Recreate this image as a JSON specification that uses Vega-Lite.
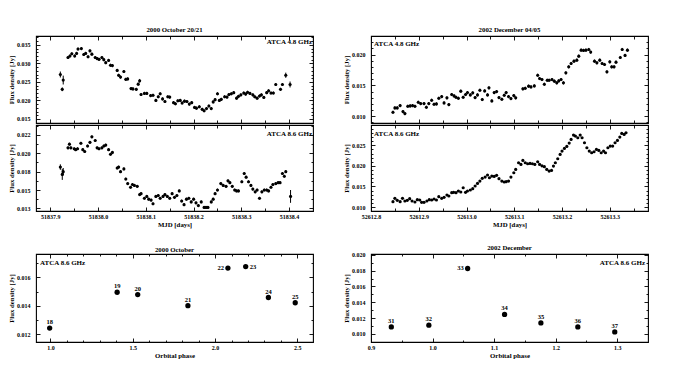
{
"padding": {"left": 7, "top": 26, "right": 5, "bottom": 5},
"config": {
 "font": "Liberation Serif",
 "view": {"stroke": "#000", "strokeWidth": 1.1},
 "axis": {"domain": false, "grid": false, "labelFont": "Liberation Serif", "labelFontSize": 6, "labelFontWeight": "bold", "labelColor": "#000", "tickColor": "#000", "tickWidth": 0.9, "titleFont": "Liberation Serif", "titleFontSize": 6.8, "titleFontWeight": "bold", "titleColor": "#000", "labelOverlap": false, "labelFlush": false, "titlePadding": 2},
 "axisX": {"labelPadding": 6.5},
 "axisY": {"labelPadding": 10},
 "title": {"font": "Liberation Serif", "fontSize": 6.8, "fontWeight": "bold", "color": "#000", "offset": 2}
},
"datasets": {
"oct48": [
{"mjd":51837.921,"flux":0.0270,"err":0.0008},{"mjd":51837.925,"flux":0.0230,"err":0.0005},{"mjd":51837.927,"flux":0.0255,"err":0.0012},
{"mjd":51837.937,"flux":0.0316,"err":0.0004},{"mjd":51837.941,"flux":0.0320,"err":0.0004},{"mjd":51837.945,"flux":0.0326,"err":0.0004},{"mjd":51837.951,"flux":0.0320,"err":0.0004},{"mjd":51837.955,"flux":0.0327,"err":0.0004},{"mjd":51837.958,"flux":0.0339,"err":0.0004},{"mjd":51837.965,"flux":0.0340,"err":0.0004},{"mjd":51837.970,"flux":0.0324,"err":0.0004},{"mjd":51837.974,"flux":0.0327,"err":0.0004},{"mjd":51837.979,"flux":0.0318,"err":0.0004},{"mjd":51837.983,"flux":0.0334,"err":0.0004},{"mjd":51837.987,"flux":0.0325,"err":0.0004},{"mjd":51837.994,"flux":0.0316,"err":0.0004},{"mjd":51837.998,"flux":0.0313,"err":0.0004},{"mjd":51838.002,"flux":0.0311,"err":0.0004},{"mjd":51838.008,"flux":0.0316,"err":0.0004},{"mjd":51838.012,"flux":0.0310,"err":0.0004},{"mjd":51838.016,"flux":0.0302,"err":0.0004},{"mjd":51838.022,"flux":0.0308,"err":0.0004},{"mjd":51838.026,"flux":0.0295,"err":0.0004},{"mjd":51838.030,"flux":0.0294,"err":0.0004},
{"mjd":51838.040,"flux":0.0281,"err":0.0004},{"mjd":51838.043,"flux":0.0268,"err":0.0004},{"mjd":51838.047,"flux":0.0263,"err":0.0004},{"mjd":51838.054,"flux":0.0278,"err":0.0004},{"mjd":51838.058,"flux":0.0257,"err":0.0004},{"mjd":51838.062,"flux":0.0258,"err":0.0004},{"mjd":51838.069,"flux":0.0232,"err":0.0004},{"mjd":51838.073,"flux":0.0231,"err":0.0004},{"mjd":51838.080,"flux":0.0230,"err":0.0004},{"mjd":51838.084,"flux":0.0244,"err":0.0004},{"mjd":51838.087,"flux":0.0253,"err":0.0005},{"mjd":51838.090,"flux":0.0216,"err":0.0004},{"mjd":51838.097,"flux":0.0219,"err":0.0004},{"mjd":51838.102,"flux":0.0219,"err":0.0004},{"mjd":51838.110,"flux":0.0213,"err":0.0004},{"mjd":51838.115,"flux":0.0214,"err":0.0004},{"mjd":51838.121,"flux":0.0200,"err":0.0004},{"mjd":51838.126,"flux":0.0210,"err":0.0004},{"mjd":51838.130,"flux":0.0218,"err":0.0004},{"mjd":51838.135,"flux":0.0204,"err":0.0004},{"mjd":51838.140,"flux":0.0197,"err":0.0004},{"mjd":51838.146,"flux":0.0210,"err":0.0004},{"mjd":51838.150,"flux":0.0209,"err":0.0004},{"mjd":51838.158,"flux":0.0194,"err":0.0004},{"mjd":51838.162,"flux":0.0191,"err":0.0004},{"mjd":51838.167,"flux":0.0199,"err":0.0004},{"mjd":51838.172,"flux":0.0200,"err":0.0004},{"mjd":51838.176,"flux":0.0193,"err":0.0004},{"mjd":51838.181,"flux":0.0198,"err":0.0004},{"mjd":51838.186,"flux":0.0197,"err":0.0004},{"mjd":51838.191,"flux":0.0190,"err":0.0004},{"mjd":51838.196,"flux":0.0194,"err":0.0004},{"mjd":51838.202,"flux":0.0181,"err":0.0004},{"mjd":51838.206,"flux":0.0179,"err":0.0004},{"mjd":51838.212,"flux":0.0183,"err":0.0004},{"mjd":51838.218,"flux":0.0176,"err":0.0004},{"mjd":51838.222,"flux":0.0172,"err":0.0004},{"mjd":51838.227,"flux":0.0178,"err":0.0004},{"mjd":51838.232,"flux":0.0185,"err":0.0004},{"mjd":51838.237,"flux":0.0178,"err":0.0004},{"mjd":51838.241,"flux":0.0196,"err":0.0004},{"mjd":51838.245,"flux":0.0202,"err":0.0004},{"mjd":51838.250,"flux":0.0218,"err":0.0004},{"mjd":51838.254,"flux":0.0200,"err":0.0004},{"mjd":51838.258,"flux":0.0203,"err":0.0004},{"mjd":51838.265,"flux":0.0210,"err":0.0004},{"mjd":51838.270,"flux":0.0209,"err":0.0004},{"mjd":51838.274,"flux":0.0216,"err":0.0004},{"mjd":51838.279,"flux":0.0218,"err":0.0004},{"mjd":51838.284,"flux":0.0221,"err":0.0004},{"mjd":51838.290,"flux":0.0206,"err":0.0004},{"mjd":51838.294,"flux":0.0211,"err":0.0004},{"mjd":51838.299,"flux":0.0215,"err":0.0004},{"mjd":51838.305,"flux":0.0220,"err":0.0004},{"mjd":51838.309,"flux":0.0217,"err":0.0004},{"mjd":51838.313,"flux":0.0222,"err":0.0004},{"mjd":51838.318,"flux":0.0219,"err":0.0004},{"mjd":51838.324,"flux":0.0215,"err":0.0004},{"mjd":51838.328,"flux":0.0210,"err":0.0004},{"mjd":51838.333,"flux":0.0206,"err":0.0004},{"mjd":51838.338,"flux":0.0212,"err":0.0004},{"mjd":51838.342,"flux":0.0215,"err":0.0004},{"mjd":51838.347,"flux":0.0208,"err":0.0004},{"mjd":51838.353,"flux":0.0221,"err":0.0004},{"mjd":51838.357,"flux":0.0226,"err":0.0004},{"mjd":51838.362,"flux":0.0220,"err":0.0004},{"mjd":51838.367,"flux":0.0220,"err":0.0004},{"mjd":51838.372,"flux":0.0243,"err":0.0004},{"mjd":51838.382,"flux":0.0230,"err":0.0004},{"mjd":51838.386,"flux":0.0243,"err":0.0004},{"mjd":51838.393,"flux":0.0268,"err":0.0007},{"mjd":51838.402,"flux":0.0243,"err":0.0008}
],
"oct86": [
{"mjd":51837.921,"flux":0.0185,"err":0.0003},{"mjd":51837.925,"flux":0.0177,"err":0.0006},{"mjd":51837.927,"flux":0.0180,"err":0.0004},
{"mjd":51837.937,"flux":0.0206,"err":0.00015},{"mjd":51837.940,"flux":0.0210,"err":0.00015},{"mjd":51837.943,"flux":0.0206,"err":0.00015},{"mjd":51837.950,"flux":0.0205,"err":0.00015},{"mjd":51837.953,"flux":0.0204,"err":0.00015},{"mjd":51837.957,"flux":0.0205,"err":0.00015},{"mjd":51837.964,"flux":0.0211,"err":0.00015},{"mjd":51837.968,"flux":0.0204,"err":0.00015},{"mjd":51837.972,"flux":0.0202,"err":0.00015},{"mjd":51837.978,"flux":0.0208,"err":0.00015},{"mjd":51837.983,"flux":0.0212,"err":0.00015},{"mjd":51837.987,"flux":0.0218,"err":0.00015},{"mjd":51837.994,"flux":0.0214,"err":0.00015},{"mjd":51837.998,"flux":0.0206,"err":0.00015},{"mjd":51838.002,"flux":0.0205,"err":0.00015},{"mjd":51838.008,"flux":0.0206,"err":0.00015},{"mjd":51838.012,"flux":0.0208,"err":0.00015},{"mjd":51838.016,"flux":0.0209,"err":0.00015},{"mjd":51838.022,"flux":0.0204,"err":0.00015},{"mjd":51838.026,"flux":0.0199,"err":0.00015},{"mjd":51838.030,"flux":0.0201,"err":0.00015},
{"mjd":51838.040,"flux":0.0184,"err":0.00015},{"mjd":51838.043,"flux":0.0185,"err":0.00015},{"mjd":51838.047,"flux":0.0180,"err":0.00015},{"mjd":51838.054,"flux":0.0183,"err":0.00015},{"mjd":51838.058,"flux":0.0172,"err":0.00015},{"mjd":51838.062,"flux":0.0167,"err":0.00015},{"mjd":51838.068,"flux":0.0163,"err":0.00015},{"mjd":51838.072,"flux":0.0166,"err":0.00015},{"mjd":51838.076,"flux":0.0165,"err":0.00015},{"mjd":51838.082,"flux":0.0164,"err":0.00015},{"mjd":51838.087,"flux":0.0155,"err":0.00015},{"mjd":51838.090,"flux":0.0156,"err":0.00015},{"mjd":51838.097,"flux":0.0151,"err":0.00015},{"mjd":51838.102,"flux":0.0153,"err":0.00015},{"mjd":51838.106,"flux":0.0150,"err":0.00015},{"mjd":51838.111,"flux":0.0149,"err":0.00015},{"mjd":51838.115,"flux":0.0145,"err":0.00015},{"mjd":51838.121,"flux":0.0153,"err":0.00015},{"mjd":51838.126,"flux":0.0154,"err":0.00015},{"mjd":51838.130,"flux":0.0151,"err":0.00015},{"mjd":51838.136,"flux":0.0153,"err":0.00015},{"mjd":51838.140,"flux":0.0155,"err":0.00015},{"mjd":51838.145,"flux":0.0153,"err":0.00015},{"mjd":51838.150,"flux":0.0151,"err":0.00015},{"mjd":51838.155,"flux":0.0156,"err":0.00015},{"mjd":51838.160,"flux":0.0152,"err":0.00015},{"mjd":51838.165,"flux":0.0154,"err":0.00015},{"mjd":51838.170,"flux":0.0159,"err":0.00015},{"mjd":51838.175,"flux":0.0148,"err":0.00015},{"mjd":51838.180,"flux":0.0144,"err":0.00015},{"mjd":51838.185,"flux":0.0150,"err":0.00015},{"mjd":51838.190,"flux":0.0151,"err":0.00015},{"mjd":51838.195,"flux":0.0147,"err":0.00015},{"mjd":51838.200,"flux":0.0150,"err":0.00015},{"mjd":51838.205,"flux":0.0146,"err":0.00015},{"mjd":51838.210,"flux":0.0143,"err":0.00015},{"mjd":51838.216,"flux":0.0147,"err":0.00015},{"mjd":51838.222,"flux":0.0141,"err":0.00015},{"mjd":51838.226,"flux":0.0141,"err":0.00015},{"mjd":51838.230,"flux":0.0141,"err":0.00015},{"mjd":51838.237,"flux":0.0147,"err":0.00015},{"mjd":51838.241,"flux":0.0150,"err":0.00015},{"mjd":51838.245,"flux":0.0156,"err":0.00015},{"mjd":51838.250,"flux":0.0160,"err":0.00015},{"mjd":51838.257,"flux":0.0167,"err":0.00015},{"mjd":51838.262,"flux":0.0165,"err":0.00015},{"mjd":51838.268,"flux":0.0164,"err":0.00015},{"mjd":51838.272,"flux":0.0170,"err":0.00015},{"mjd":51838.276,"flux":0.0168,"err":0.00015},{"mjd":51838.281,"flux":0.0164,"err":0.00015},{"mjd":51838.286,"flux":0.0160,"err":0.00015},{"mjd":51838.290,"flux":0.0159,"err":0.00015},{"mjd":51838.294,"flux":0.0159,"err":0.00015},{"mjd":51838.301,"flux":0.0169,"err":0.00015},{"mjd":51838.306,"flux":0.0178,"err":0.00015},{"mjd":51838.310,"flux":0.0174,"err":0.00015},{"mjd":51838.315,"flux":0.0169,"err":0.00015},{"mjd":51838.320,"flux":0.0165,"err":0.00015},{"mjd":51838.324,"flux":0.0161,"err":0.00015},{"mjd":51838.329,"flux":0.0158,"err":0.00015},{"mjd":51838.333,"flux":0.0160,"err":0.00015},{"mjd":51838.338,"flux":0.0151,"err":0.00015},{"mjd":51838.343,"flux":0.0158,"err":0.00015},{"mjd":51838.348,"flux":0.0160,"err":0.00015},{"mjd":51838.353,"flux":0.0160,"err":0.00015},{"mjd":51838.357,"flux":0.0159,"err":0.00015},{"mjd":51838.362,"flux":0.0163,"err":0.00015},{"mjd":51838.366,"flux":0.0166,"err":0.00015},{"mjd":51838.372,"flux":0.0167,"err":0.00015},{"mjd":51838.377,"flux":0.0168,"err":0.00015},{"mjd":51838.381,"flux":0.0168,"err":0.00015},{"mjd":51838.386,"flux":0.0178,"err":0.00015},{"mjd":51838.390,"flux":0.0175,"err":0.00015},{"mjd":51838.393,"flux":0.0180,"err":0.00015},{"mjd":51838.403,"flux":0.0153,"err":0.0007}
],
"dec48": [
{"mjd":52612.846,"flux":0.01065,"err":0.00025},{"mjd":52612.850,"flux":0.01135,"err":0.00025},{"mjd":52612.855,"flux":0.01135,"err":0.00025},{"mjd":52612.861,"flux":0.01173,"err":0.00025},{"mjd":52612.867,"flux":0.01076,"err":0.00025},{"mjd":52612.871,"flux":0.01043,"err":0.00025},{"mjd":52612.877,"flux":0.01162,"err":0.00025},{"mjd":52612.882,"flux":0.01168,"err":0.00025},{"mjd":52612.887,"flux":0.01173,"err":0.00025},{"mjd":52612.892,"flux":0.01162,"err":0.00025},{"mjd":52612.899,"flux":0.01227,"err":0.00025},{"mjd":52612.904,"flux":0.01206,"err":0.00025},{"mjd":52612.911,"flux":0.01206,"err":0.00025},{"mjd":52612.916,"flux":0.01146,"err":0.00025},{"mjd":52612.921,"flux":0.01206,"err":0.00025},{"mjd":52612.927,"flux":0.01260,"err":0.00025},{"mjd":52612.932,"flux":0.01195,"err":0.00025},{"mjd":52612.937,"flux":0.01200,"err":0.00025},{"mjd":52612.942,"flux":0.01292,"err":0.00025},{"mjd":52612.948,"flux":0.01319,"err":0.00025},{"mjd":52612.953,"flux":0.01216,"err":0.00025},{"mjd":52612.959,"flux":0.01298,"err":0.00025},{"mjd":52612.963,"flux":0.01189,"err":0.00025},{"mjd":52612.969,"flux":0.01352,"err":0.00025},{"mjd":52612.974,"flux":0.01330,"err":0.00025},{"mjd":52612.978,"flux":0.01308,"err":0.00025},{"mjd":52612.983,"flux":0.01292,"err":0.00025},{"mjd":52612.988,"flux":0.01406,"err":0.00025},{"mjd":52612.993,"flux":0.01308,"err":0.00025},{"mjd":52612.998,"flux":0.01352,"err":0.00025},{"mjd":52613.002,"flux":0.01384,"err":0.00025},{"mjd":52613.008,"flux":0.01346,"err":0.00025},{"mjd":52613.013,"flux":0.01379,"err":0.00025},{"mjd":52613.018,"flux":0.01303,"err":0.00025},{"mjd":52613.023,"flux":0.01346,"err":0.00025},{"mjd":52613.028,"flux":0.01422,"err":0.00025},{"mjd":52613.033,"flux":0.01271,"err":0.00025},{"mjd":52613.038,"flux":0.01411,"err":0.00025},{"mjd":52613.044,"flux":0.01346,"err":0.00025},{"mjd":52613.047,"flux":0.01460,"err":0.00025},{"mjd":52613.053,"flux":0.01249,"err":0.00025},{"mjd":52613.058,"flux":0.01384,"err":0.00025},{"mjd":52613.063,"flux":0.01400,"err":0.00025},{"mjd":52613.068,"flux":0.01303,"err":0.00025},{"mjd":52613.074,"flux":0.01276,"err":0.00025},{"mjd":52613.079,"flux":0.01341,"err":0.00025},{"mjd":52613.083,"flux":0.01384,"err":0.00025},{"mjd":52613.088,"flux":0.01319,"err":0.00025},{"mjd":52613.093,"flux":0.01287,"err":0.00025},{"mjd":52613.099,"flux":0.01335,"err":0.00025},{"mjd":52613.103,"flux":0.01298,"err":0.00025},{"mjd":52613.118,"flux":0.01444,"err":0.00025},{"mjd":52613.123,"flux":0.01454,"err":0.00025},{"mjd":52613.130,"flux":0.01487,"err":0.00025},{"mjd":52613.135,"flux":0.01476,"err":0.00025},{"mjd":52613.142,"flux":0.01492,"err":0.00025},{"mjd":52613.149,"flux":0.01665,"err":0.00025},{"mjd":52613.153,"flux":0.01611,"err":0.00025},{"mjd":52613.158,"flux":0.01595,"err":0.00025},{"mjd":52613.163,"flux":0.01519,"err":0.00025},{"mjd":52613.169,"flux":0.01584,"err":0.00025},{"mjd":52613.173,"flux":0.01584,"err":0.00025},{"mjd":52613.179,"flux":0.01595,"err":0.00025},{"mjd":52613.184,"flux":0.01568,"err":0.00025},{"mjd":52613.189,"flux":0.01541,"err":0.00025},{"mjd":52613.193,"flux":0.01573,"err":0.00025},{"mjd":52613.198,"flux":0.01595,"err":0.00025},{"mjd":52613.203,"flux":0.01541,"err":0.00025},{"mjd":52613.208,"flux":0.01703,"err":0.00025},{"mjd":52613.214,"flux":0.01801,"err":0.00025},{"mjd":52613.219,"flux":0.01855,"err":0.00025},{"mjd":52613.225,"flux":0.01893,"err":0.00025},{"mjd":52613.231,"flux":0.01909,"err":0.00025},{"mjd":52613.235,"flux":0.01974,"err":0.00025},{"mjd":52613.240,"flux":0.02071,"err":0.00025},{"mjd":52613.245,"flux":0.02066,"err":0.00025},{"mjd":52613.250,"flux":0.02071,"err":0.00025},{"mjd":52613.256,"flux":0.02082,"err":0.00025},{"mjd":52613.260,"flux":0.02039,"err":0.00025},{"mjd":52613.268,"flux":0.01893,"err":0.00025},{"mjd":52613.273,"flux":0.01866,"err":0.00025},{"mjd":52613.279,"flux":0.01909,"err":0.00025},{"mjd":52613.284,"flux":0.01855,"err":0.00025},{"mjd":52613.289,"flux":0.01839,"err":0.00025},{"mjd":52613.294,"flux":0.01720,"err":0.00025},{"mjd":52613.300,"flux":0.01882,"err":0.00025},{"mjd":52613.304,"flux":0.01801,"err":0.00025},{"mjd":52613.309,"flux":0.01801,"err":0.00025},{"mjd":52613.313,"flux":0.01876,"err":0.00025},{"mjd":52613.322,"flux":0.01952,"err":0.00025},{"mjd":52613.326,"flux":0.02082,"err":0.00025},{"mjd":52613.332,"flux":0.01985,"err":0.00025},{"mjd":52613.337,"flux":0.02071,"err":0.00025}
],
"dec86": [
{"mjd":52612.846,"flux":0.01129,"err":0.00015},{"mjd":52612.850,"flux":0.01210,"err":0.00015},{"mjd":52612.855,"flux":0.01162,"err":0.00015},{"mjd":52612.861,"flux":0.01129,"err":0.00015},{"mjd":52612.866,"flux":0.01210,"err":0.00015},{"mjd":52612.871,"flux":0.01146,"err":0.00015},{"mjd":52612.876,"flux":0.01162,"err":0.00015},{"mjd":52612.881,"flux":0.01202,"err":0.00015},{"mjd":52612.886,"flux":0.01146,"err":0.00015},{"mjd":52612.892,"flux":0.01121,"err":0.00015},{"mjd":52612.897,"flux":0.01178,"err":0.00015},{"mjd":52612.902,"flux":0.01170,"err":0.00015},{"mjd":52612.906,"flux":0.01113,"err":0.00015},{"mjd":52612.911,"flux":0.01113,"err":0.00015},{"mjd":52612.917,"flux":0.01146,"err":0.00015},{"mjd":52612.922,"flux":0.01178,"err":0.00015},{"mjd":52612.927,"flux":0.01170,"err":0.00015},{"mjd":52612.932,"flux":0.01194,"err":0.00015},{"mjd":52612.937,"flux":0.01170,"err":0.00015},{"mjd":52612.942,"flux":0.01251,"err":0.00015},{"mjd":52612.948,"flux":0.01210,"err":0.00015},{"mjd":52612.953,"flux":0.01235,"err":0.00015},{"mjd":52612.959,"flux":0.01291,"err":0.00015},{"mjd":52612.963,"flux":0.01267,"err":0.00015},{"mjd":52612.969,"flux":0.01348,"err":0.00015},{"mjd":52612.973,"flux":0.01356,"err":0.00015},{"mjd":52612.978,"flux":0.01348,"err":0.00015},{"mjd":52612.983,"flux":0.01388,"err":0.00015},{"mjd":52612.988,"flux":0.01364,"err":0.00015},{"mjd":52612.993,"flux":0.01469,"err":0.00015},{"mjd":52612.998,"flux":0.01356,"err":0.00015},{"mjd":52613.002,"flux":0.01388,"err":0.00015},{"mjd":52613.008,"flux":0.01413,"err":0.00015},{"mjd":52613.013,"flux":0.01445,"err":0.00015},{"mjd":52613.018,"flux":0.01510,"err":0.00015},{"mjd":52613.023,"flux":0.01574,"err":0.00015},{"mjd":52613.028,"flux":0.01631,"err":0.00015},{"mjd":52613.033,"flux":0.01696,"err":0.00015},{"mjd":52613.039,"flux":0.01728,"err":0.00015},{"mjd":52613.044,"flux":0.01777,"err":0.00015},{"mjd":52613.048,"flux":0.01712,"err":0.00015},{"mjd":52613.053,"flux":0.01752,"err":0.00015},{"mjd":52613.058,"flux":0.01744,"err":0.00015},{"mjd":52613.063,"flux":0.01769,"err":0.00015},{"mjd":52613.068,"flux":0.01688,"err":0.00015},{"mjd":52613.074,"flux":0.01631,"err":0.00015},{"mjd":52613.079,"flux":0.01607,"err":0.00015},{"mjd":52613.083,"flux":0.01615,"err":0.00015},{"mjd":52613.088,"flux":0.01631,"err":0.00015},{"mjd":52613.093,"flux":0.01728,"err":0.00015},{"mjd":52613.099,"flux":0.01833,"err":0.00015},{"mjd":52613.103,"flux":0.01914,"err":0.00015},{"mjd":52613.109,"flux":0.02076,"err":0.00015},{"mjd":52613.114,"flux":0.02036,"err":0.00015},{"mjd":52613.118,"flux":0.02133,"err":0.00015},{"mjd":52613.123,"flux":0.02076,"err":0.00015},{"mjd":52613.128,"flux":0.02052,"err":0.00015},{"mjd":52613.133,"flux":0.02060,"err":0.00015},{"mjd":52613.138,"flux":0.02052,"err":0.00015},{"mjd":52613.143,"flux":0.02036,"err":0.00015},{"mjd":52613.149,"flux":0.02100,"err":0.00015},{"mjd":52613.153,"flux":0.02036,"err":0.00015},{"mjd":52613.158,"flux":0.02000,"err":0.00015},{"mjd":52613.163,"flux":0.01980,"err":0.00015},{"mjd":52613.168,"flux":0.01914,"err":0.00015},{"mjd":52613.173,"flux":0.01874,"err":0.00015},{"mjd":52613.178,"flux":0.01890,"err":0.00015},{"mjd":52613.182,"flux":0.01995,"err":0.00015},{"mjd":52613.186,"flux":0.02076,"err":0.00015},{"mjd":52613.191,"flux":0.02173,"err":0.00015},{"mjd":52613.196,"flux":0.02278,"err":0.00015},{"mjd":52613.200,"flux":0.02360,"err":0.00015},{"mjd":52613.205,"flux":0.02424,"err":0.00015},{"mjd":52613.210,"flux":0.02472,"err":0.00015},{"mjd":52613.215,"flux":0.02553,"err":0.00015},{"mjd":52613.219,"flux":0.02642,"err":0.00015},{"mjd":52613.224,"flux":0.02748,"err":0.00015},{"mjd":52613.228,"flux":0.02723,"err":0.00015},{"mjd":52613.233,"flux":0.02683,"err":0.00015},{"mjd":52613.238,"flux":0.02748,"err":0.00015},{"mjd":52613.242,"flux":0.02683,"err":0.00015},{"mjd":52613.247,"flux":0.02561,"err":0.00015},{"mjd":52613.252,"flux":0.02440,"err":0.00015},{"mjd":52613.257,"flux":0.02359,"err":0.00015},{"mjd":52613.262,"flux":0.02319,"err":0.00015},{"mjd":52613.267,"flux":0.02343,"err":0.00015},{"mjd":52613.272,"flux":0.02400,"err":0.00015},{"mjd":52613.277,"flux":0.02375,"err":0.00015},{"mjd":52613.282,"flux":0.02319,"err":0.00015},{"mjd":52613.287,"flux":0.02359,"err":0.00015},{"mjd":52613.291,"flux":0.02319,"err":0.00015},{"mjd":52613.296,"flux":0.02440,"err":0.00015},{"mjd":52613.301,"flux":0.02480,"err":0.00015},{"mjd":52613.306,"flux":0.02480,"err":0.00015},{"mjd":52613.311,"flux":0.02561,"err":0.00015},{"mjd":52613.316,"flux":0.02618,"err":0.00015},{"mjd":52613.321,"flux":0.02699,"err":0.00015},{"mjd":52613.325,"flux":0.02788,"err":0.00015},{"mjd":52613.330,"flux":0.02764,"err":0.00015},{"mjd":52613.334,"flux":0.02804,"err":0.00015}
],
"octphase": [
{"obs":"18","phase":0.995,"flux":0.01242},{"obs":"19","phase":1.405,"flux":0.01495},{"obs":"20","phase":1.530,"flux":0.01479},{"obs":"21","phase":1.835,"flux":0.0140},{"obs":"22","phase":2.078,"flux":0.01666},{"obs":"23","phase":2.186,"flux":0.01676},{"obs":"24","phase":2.324,"flux":0.01458},{"obs":"25","phase":2.487,"flux":0.01421}
],
"decphase": [
{"obs":"31","phase":0.933,"flux":0.01088},{"obs":"32","phase":0.994,"flux":0.0111},{"obs":"33","phase":1.057,"flux":0.01827},{"obs":"34","phase":1.117,"flux":0.01247},{"obs":"35","phase":1.176,"flux":0.01139},{"obs":"36","phase":1.236,"flux":0.01088},{"obs":"37","phase":1.296,"flux":0.01025}
]
},
"spacing": 15,
"vconcat": [
{"hconcat": [
 {"spacing": 0, "vconcat": [
  {"width": 277, "height": 87, "title": "2000 October 20/21", "data": {"name": "oct48"},
   "resolve": {"axis": {"x": "independent", "y": "independent"}},
   "layer": [
    {"mark": {"type": "errorbar", "ticks": false, "color": "#000", "thickness": 1},
     "encoding": {
      "x": {"field": "mjd", "type": "quantitative", "scale": {"domain": [51837.87, 51838.45], "nice": false, "zero": false}, "axis": {"orient": "bottom", "values": [51837.9, 51838.0, 51838.1, 51838.2, 51838.3, 51838.4], "tickSize": -4, "labels": false, "title": null}},
      "y": {"field": "flux", "type": "quantitative", "scale": {"domain": [0.0139, 0.0374], "nice": false, "zero": false}, "axis": {"orient": "left", "values": [0.015, 0.02, 0.025, 0.03, 0.035], "tickSize": -4, "format": ".3f", "title": "Flux density [Jy]"}},
      "yError": {"field": "err"}}},
    {"mark": {"type": "point", "filled": true, "color": "#000", "size": 10, "opacity": 1},
     "encoding": {
      "x": {"field": "mjd", "type": "quantitative", "axis": {"orient": "top", "values": [51837.9, 51838.0, 51838.1, 51838.2, 51838.3, 51838.4], "tickSize": -4, "labels": false, "title": null}},
      "y": {"field": "flux", "type": "quantitative", "axis": {"orient": "right", "values": [0.015, 0.02, 0.025, 0.03, 0.035], "tickSize": -4, "labels": false, "title": null}}}},
    {"mark": {"type": "point", "opacity": 0},
     "encoding": {
      "x": {"field": "mjd", "type": "quantitative", "axis": {"orient": "bottom", "values": [51837.95, 51838.05, 51838.15, 51838.25, 51838.35], "tickSize": -3, "labels": false, "title": null}},
      "y": {"field": "flux", "type": "quantitative", "axis": {"orient": "left", "values": [0.014, 0.016, 0.017, 0.018, 0.019, 0.021, 0.022, 0.023, 0.024, 0.026, 0.027, 0.028, 0.029, 0.031, 0.032, 0.033, 0.034, 0.036, 0.037], "tickSize": -2, "labels": false, "title": null}}}},
    {"mark": {"type": "point", "opacity": 0},
     "encoding": {
      "x": {"field": "mjd", "type": "quantitative", "axis": {"orient": "top", "values": [51837.95, 51838.05, 51838.15, 51838.25, 51838.35], "tickSize": -3, "labels": false, "title": null}},
      "y": {"field": "flux", "type": "quantitative", "axis": {"orient": "right", "values": [0.014, 0.016, 0.017, 0.018, 0.019, 0.021, 0.022, 0.023, 0.024, 0.026, 0.027, 0.028, 0.029, 0.031, 0.032, 0.033, 0.034, 0.036, 0.037], "tickSize": -2, "labels": false, "title": null}}}},
    {"data": {"values": [{}]},
     "mark": {"type": "text", "align": "right", "baseline": "middle", "dx": -1, "fontSize": 7, "fontWeight": "bold", "font": "Liberation Serif", "color": "#000"},
     "encoding": {"x": {"datum": 51838.45, "type": "quantitative", "axis": null}, "y": {"datum": 0.0359, "type": "quantitative", "axis": null}, "text": {"value": "ATCA 4.8 GHz"}}}
   ]},
  {"width": 277, "height": 86, "data": {"name": "oct86"},
   "resolve": {"axis": {"x": "independent", "y": "independent"}},
   "layer": [
    {"mark": {"type": "errorbar", "ticks": false, "color": "#000", "thickness": 1},
     "encoding": {
      "x": {"field": "mjd", "type": "quantitative", "scale": {"domain": [51837.87, 51838.45], "nice": false, "zero": false}, "axis": {"orient": "bottom", "values": [51837.9, 51838.0, 51838.1, 51838.2, 51838.3, 51838.4], "tickSize": -4, "format": ".1f", "title": "MJD [days]"}},
      "y": {"field": "flux", "type": "quantitative", "scale": {"domain": [0.01371, 0.02309], "nice": false, "zero": false}, "axis": {"orient": "left", "values": [0.014, 0.016, 0.018, 0.02, 0.022], "tickSize": -4, "labelExpr": "datum.value < 0.0145 ? '0.013' : datum.value < 0.0165 ? '0.015' : format(datum.value, '.3f')", "title": "Flux density [Jy]"}},
      "yError": {"field": "err"}}},
    {"mark": {"type": "point", "filled": true, "color": "#000", "size": 10, "opacity": 1},
     "encoding": {
      "x": {"field": "mjd", "type": "quantitative", "axis": {"orient": "top", "values": [51837.9, 51838.0, 51838.1, 51838.2, 51838.3, 51838.4], "tickSize": -4, "labels": false, "title": null}},
      "y": {"field": "flux", "type": "quantitative", "axis": {"orient": "right", "values": [0.014, 0.016, 0.018, 0.02, 0.022], "tickSize": -4, "labels": false, "title": null}}}},
    {"mark": {"type": "point", "opacity": 0},
     "encoding": {
      "x": {"field": "mjd", "type": "quantitative", "axis": {"orient": "bottom", "values": [51837.95, 51838.05, 51838.15, 51838.25, 51838.35], "tickSize": -3, "labels": false, "title": null}},
      "y": {"field": "flux", "type": "quantitative", "axis": {"orient": "left", "values": [0.015, 0.017, 0.019, 0.021, 0.023], "tickSize": -2, "labels": false, "title": null}}}},
    {"mark": {"type": "point", "opacity": 0},
     "encoding": {
      "x": {"field": "mjd", "type": "quantitative", "axis": {"orient": "top", "values": [51837.95, 51838.05, 51838.15, 51838.25, 51838.35], "tickSize": -3, "labels": false, "title": null}},
      "y": {"field": "flux", "type": "quantitative", "axis": {"orient": "right", "values": [0.015, 0.017, 0.019, 0.021, 0.023], "tickSize": -2, "labels": false, "title": null}}}},
    {"data": {"values": [{}]},
     "mark": {"type": "text", "align": "right", "baseline": "middle", "dx": -1, "fontSize": 7, "fontWeight": "bold", "font": "Liberation Serif", "color": "#000"},
     "encoding": {"x": {"datum": 51838.45, "type": "quantitative", "axis": null}, "y": {"datum": 0.0221, "type": "quantitative", "axis": null}, "text": {"value": "ATCA 8.6 GHz"}}}
   ]}
 ]},
 {"spacing": 0, "vconcat": [
  {"width": 277, "height": 87, "title": "2002 December 04/05", "data": {"name": "dec48"},
   "resolve": {"axis": {"x": "independent", "y": "independent"}},
   "layer": [
    {"mark": {"type": "errorbar", "ticks": false, "color": "#000", "thickness": 1},
     "encoding": {
      "x": {"field": "mjd", "type": "quantitative", "scale": {"domain": [52612.8, 52613.38], "nice": false, "zero": false}, "axis": {"orient": "bottom", "values": [52612.8, 52612.9, 52613.0, 52613.1, 52613.2, 52613.3], "tickSize": -4, "labels": false, "title": null}},
      "y": {"field": "flux", "type": "quantitative", "scale": {"domain": [0.00891, 0.023], "nice": false, "zero": false}, "axis": {"orient": "left", "values": [0.01, 0.015, 0.02], "tickSize": -4, "format": ".3f", "title": "Flux density [Jy]"}},
      "yError": {"field": "err"}}},
    {"mark": {"type": "point", "filled": true, "color": "#000", "size": 10, "opacity": 1},
     "encoding": {
      "x": {"field": "mjd", "type": "quantitative", "axis": {"orient": "top", "values": [52612.8, 52612.9, 52613.0, 52613.1, 52613.2, 52613.3], "tickSize": -4, "labels": false, "title": null}},
      "y": {"field": "flux", "type": "quantitative", "axis": {"orient": "right", "values": [0.01, 0.015, 0.02], "tickSize": -4, "labels": false, "title": null}}}},
    {"mark": {"type": "point", "opacity": 0},
     "encoding": {
      "x": {"field": "mjd", "type": "quantitative", "axis": {"orient": "bottom", "values": [52612.85, 52612.95, 52613.05, 52613.15, 52613.25, 52613.35], "tickSize": -3, "labels": false, "title": null}},
      "y": {"field": "flux", "type": "quantitative", "axis": {"orient": "left", "values": [0.009, 0.011, 0.012, 0.013, 0.014, 0.016, 0.017, 0.018, 0.019, 0.021, 0.022], "tickSize": -2, "labels": false, "title": null}}}},
    {"mark": {"type": "point", "opacity": 0},
     "encoding": {
      "x": {"field": "mjd", "type": "quantitative", "axis": {"orient": "top", "values": [52612.85, 52612.95, 52613.05, 52613.15, 52613.25, 52613.35], "tickSize": -3, "labels": false, "title": null}},
      "y": {"field": "flux", "type": "quantitative", "axis": {"orient": "right", "values": [0.009, 0.011, 0.012, 0.013, 0.014, 0.016, 0.017, 0.018, 0.019, 0.021, 0.022], "tickSize": -2, "labels": false, "title": null}}}},
    {"data": {"values": [{}]},
     "mark": {"type": "text", "align": "left", "baseline": "middle", "dx": 3, "fontSize": 7, "fontWeight": "bold", "font": "Liberation Serif", "color": "#000"},
     "encoding": {"x": {"datum": 52612.8, "type": "quantitative", "axis": null}, "y": {"datum": 0.0217, "type": "quantitative", "axis": null}, "text": {"value": "ATCA 4.8 GHz"}}}
   ]},
  {"width": 277, "height": 86, "data": {"name": "dec86"},
   "resolve": {"axis": {"x": "independent", "y": "independent"}},
   "layer": [
    {"mark": {"type": "errorbar", "ticks": false, "color": "#000", "thickness": 1},
     "encoding": {
      "x": {"field": "mjd", "type": "quantitative", "scale": {"domain": [52612.8, 52613.38], "nice": false, "zero": false}, "axis": {"orient": "bottom", "values": [52612.8, 52612.9, 52613.0, 52613.1, 52613.2, 52613.3], "tickSize": -4, "format": ".1f", "title": "MJD [days]"}},
      "y": {"field": "flux", "type": "quantitative", "scale": {"domain": [0.00903, 0.02993], "nice": false, "zero": false}, "axis": {"orient": "left", "values": [0.01, 0.015, 0.02, 0.025], "tickSize": -4, "format": ".3f", "title": "Flux density [Jy]"}},
      "yError": {"field": "err"}}},
    {"mark": {"type": "point", "filled": true, "color": "#000", "size": 10, "opacity": 1},
     "encoding": {
      "x": {"field": "mjd", "type": "quantitative", "axis": {"orient": "top", "values": [52612.8, 52612.9, 52613.0, 52613.1, 52613.2, 52613.3], "tickSize": -4, "labels": false, "title": null}},
      "y": {"field": "flux", "type": "quantitative", "axis": {"orient": "right", "values": [0.01, 0.015, 0.02, 0.025], "tickSize": -4, "labels": false, "title": null}}}},
    {"mark": {"type": "point", "opacity": 0},
     "encoding": {
      "x": {"field": "mjd", "type": "quantitative", "axis": {"orient": "bottom", "values": [52612.85, 52612.95, 52613.05, 52613.15, 52613.25, 52613.35], "tickSize": -3, "labels": false, "title": null}},
      "y": {"field": "flux", "type": "quantitative", "axis": {"orient": "left", "values": [0.011, 0.012, 0.013, 0.014, 0.016, 0.017, 0.018, 0.019, 0.021, 0.022, 0.023, 0.024, 0.026, 0.027, 0.028, 0.029], "tickSize": -2, "labels": false, "title": null}}}},
    {"mark": {"type": "point", "opacity": 0},
     "encoding": {
      "x": {"field": "mjd", "type": "quantitative", "axis": {"orient": "top", "values": [52612.85, 52612.95, 52613.05, 52613.15, 52613.25, 52613.35], "tickSize": -3, "labels": false, "title": null}},
      "y": {"field": "flux", "type": "quantitative", "axis": {"orient": "right", "values": [0.011, 0.012, 0.013, 0.014, 0.016, 0.017, 0.018, 0.019, 0.021, 0.022, 0.023, 0.024, 0.026, 0.027, 0.028, 0.029], "tickSize": -2, "labels": false, "title": null}}}},
    {"data": {"values": [{}]},
     "mark": {"type": "text", "align": "left", "baseline": "middle", "dx": 3, "fontSize": 7, "fontWeight": "bold", "font": "Liberation Serif", "color": "#000"},
     "encoding": {"x": {"datum": 52612.8, "type": "quantitative", "axis": null}, "y": {"datum": 0.0277, "type": "quantitative", "axis": null}, "text": {"value": "ATCA 8.6 GHz"}}}
   ]}
 ]}
], "spacing": 28},
{"hconcat": [
  {"width": 277, "height": 88, "title": {"text": "2000 October", "offset": 0}, "data": {"name": "octphase"},
   "resolve": {"axis": {"x": "independent", "y": "independent"}},
   "layer": [
    {"mark": {"type": "point", "filled": true, "color": "#000", "size": 28, "opacity": 1},
     "encoding": {
      "x": {"field": "phase", "type": "quantitative", "scale": {"domain": [0.912, 2.595], "nice": false, "zero": false}, "axis": {"orient": "bottom", "values": [1.0, 1.5, 2.0, 2.5], "tickSize": -4, "format": ".1f", "title": "Orbital phase"}},
      "y": {"field": "flux", "type": "quantitative", "scale": {"domain": [0.01144, 0.01765], "nice": false, "zero": false}, "axis": {"orient": "left", "values": [0.012, 0.014, 0.016], "tickSize": -4, "format": ".3f", "title": "Flux density [Jy]"}}}},
    {"mark": {"type": "point", "opacity": 0},
     "encoding": {
      "x": {"field": "phase", "type": "quantitative", "axis": {"orient": "top", "values": [1.0, 1.5, 2.0, 2.5], "tickSize": -4, "labels": false, "title": null}},
      "y": {"field": "flux", "type": "quantitative", "axis": {"orient": "right", "values": [0.012, 0.014, 0.016], "tickSize": -4, "labels": false, "title": null}}}},
    {"mark": {"type": "point", "opacity": 0},
     "encoding": {
      "x": {"field": "phase", "type": "quantitative", "axis": {"orient": "bottom", "values": [1.1, 1.2, 1.3, 1.4, 1.6, 1.7, 1.8, 1.9, 2.1, 2.2, 2.3, 2.4], "tickSize": -2, "labels": false, "title": null}},
      "y": {"field": "flux", "type": "quantitative", "axis": {"orient": "left", "values": [0.013, 0.015, 0.017], "tickSize": -2, "labels": false, "title": null}}}},
    {"mark": {"type": "point", "opacity": 0},
     "encoding": {
      "x": {"field": "phase", "type": "quantitative", "axis": {"orient": "top", "values": [1.1, 1.2, 1.3, 1.4, 1.6, 1.7, 1.8, 1.9, 2.1, 2.2, 2.3, 2.4], "tickSize": -2, "labels": false, "title": null}},
      "y": {"field": "flux", "type": "quantitative", "axis": {"orient": "right", "values": [0.013, 0.015, 0.017], "tickSize": -2, "labels": false, "title": null}}}},
    {"transform": [{"filter": "datum.obs != '22' && datum.obs != '23'"}],
     "mark": {"type": "text", "baseline": "bottom", "dy": -3, "fontSize": 6.5, "fontWeight": "bold", "font": "Liberation Serif", "color": "#000"},
     "encoding": {"x": {"field": "phase", "type": "quantitative", "axis": null}, "y": {"field": "flux", "type": "quantitative", "axis": null}, "text": {"field": "obs"}}},
    {"transform": [{"filter": "datum.obs == '22'"}],
     "mark": {"type": "text", "align": "right", "baseline": "middle", "dx": -4, "fontSize": 6.5, "fontWeight": "bold", "font": "Liberation Serif", "color": "#000"},
     "encoding": {"x": {"field": "phase", "type": "quantitative", "axis": null}, "y": {"field": "flux", "type": "quantitative", "axis": null}, "text": {"field": "obs"}}},
    {"transform": [{"filter": "datum.obs == '23'"}],
     "mark": {"type": "text", "align": "left", "baseline": "middle", "dx": 4, "fontSize": 6.5, "fontWeight": "bold", "font": "Liberation Serif", "color": "#000"},
     "encoding": {"x": {"field": "phase", "type": "quantitative", "axis": null}, "y": {"field": "flux", "type": "quantitative", "axis": null}, "text": {"field": "obs"}}},
    {"data": {"values": [{}]},
     "mark": {"type": "text", "align": "left", "baseline": "middle", "dx": 4, "fontSize": 7, "fontWeight": "bold", "font": "Liberation Serif", "color": "#000"},
     "encoding": {"x": {"datum": 0.912, "type": "quantitative", "axis": null}, "y": {"datum": 0.01702, "type": "quantitative", "axis": null}, "text": {"value": "ATCA 8.6 GHz"}}}
   ]},
  {"width": 277, "height": 88, "title": {"text": "2002 December", "offset": 0}, "data": {"name": "decphase"},
   "resolve": {"axis": {"x": "independent", "y": "independent"}},
   "layer": [
    {"mark": {"type": "point", "filled": true, "color": "#000", "size": 28, "opacity": 1},
     "encoding": {
      "x": {"field": "phase", "type": "quantitative", "scale": {"domain": [0.9, 1.35], "nice": false, "zero": false}, "axis": {"orient": "bottom", "values": [0.9, 1.0, 1.1, 1.2, 1.3], "tickSize": -4, "format": ".1f", "title": "Orbital phase"}},
      "y": {"field": "flux", "type": "quantitative", "scale": {"domain": [0.00898, 0.0201], "nice": false, "zero": false}, "axis": {"orient": "left", "values": [0.01, 0.012, 0.014, 0.016, 0.018, 0.02], "tickSize": -4, "format": ".3f", "title": "Flux density [Jy]"}}}},
    {"mark": {"type": "point", "opacity": 0},
     "encoding": {
      "x": {"field": "phase", "type": "quantitative", "axis": {"orient": "top", "values": [0.9, 1.0, 1.1, 1.2, 1.3], "tickSize": -4, "labels": false, "title": null}},
      "y": {"field": "flux", "type": "quantitative", "axis": {"orient": "right", "values": [0.01, 0.012, 0.014, 0.016, 0.018, 0.02], "tickSize": -4, "labels": false, "title": null}}}},
    {"mark": {"type": "point", "opacity": 0},
     "encoding": {
      "x": {"field": "phase", "type": "quantitative", "axis": {"orient": "bottom", "values": [0.95, 1.05, 1.15, 1.25], "tickSize": -2, "labels": false, "title": null}},
      "y": {"field": "flux", "type": "quantitative", "axis": {"orient": "left", "values": [0.011, 0.013, 0.015, 0.017, 0.019], "tickSize": -2, "labels": false, "title": null}}}},
    {"mark": {"type": "point", "opacity": 0},
     "encoding": {
      "x": {"field": "phase", "type": "quantitative", "axis": {"orient": "top", "values": [0.95, 1.05, 1.15, 1.25], "tickSize": -2, "labels": false, "title": null}},
      "y": {"field": "flux", "type": "quantitative", "axis": {"orient": "right", "values": [0.011, 0.013, 0.015, 0.017, 0.019], "tickSize": -2, "labels": false, "title": null}}}},
    {"transform": [{"filter": "datum.obs != '33'"}],
     "mark": {"type": "text", "baseline": "bottom", "dy": -3, "fontSize": 6.5, "fontWeight": "bold", "font": "Liberation Serif", "color": "#000"},
     "encoding": {"x": {"field": "phase", "type": "quantitative", "axis": null}, "y": {"field": "flux", "type": "quantitative", "axis": null}, "text": {"field": "obs"}}},
    {"transform": [{"filter": "datum.obs == '33'"}],
     "mark": {"type": "text", "align": "right", "baseline": "middle", "dx": -4, "fontSize": 6.5, "fontWeight": "bold", "font": "Liberation Serif", "color": "#000"},
     "encoding": {"x": {"field": "phase", "type": "quantitative", "axis": null}, "y": {"field": "flux", "type": "quantitative", "axis": null}, "text": {"field": "obs"}}},
    {"data": {"values": [{}]},
     "mark": {"type": "text", "align": "right", "baseline": "middle", "dx": -3, "fontSize": 7, "fontWeight": "bold", "font": "Liberation Serif", "color": "#000"},
     "encoding": {"x": {"datum": 1.35, "type": "quantitative", "axis": null}, "y": {"datum": 0.01893, "type": "quantitative", "axis": null}, "text": {"value": "ATCA 8.6 GHz"}}}
   ]}
], "spacing": 28}
]
}
